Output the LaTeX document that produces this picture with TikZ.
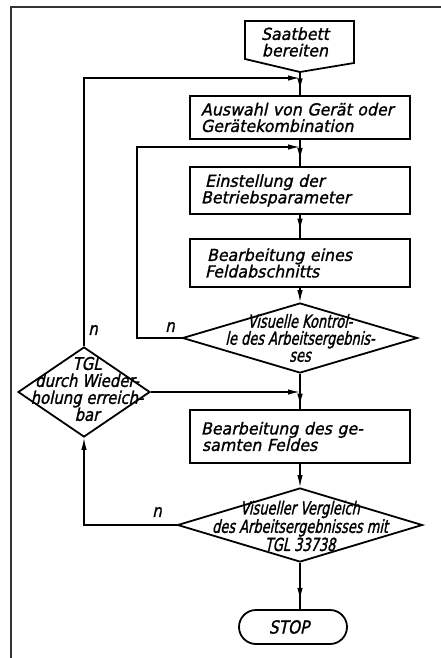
\documentclass[tikz,border=0pt]{standalone}
\usepackage{fontspec}
\usetikzlibrary{arrows.meta,shapes.geometric,decorations.markings}
\newfontfamily\tfont{DejaVu Sans}[FakeSlant=0.22,FakeStretch=0.96,FakeBold=1.3]
\newfontfamily\dfont{DejaVu Sans}[FakeSlant=0.22,FakeStretch=0.72,FakeBold=1.3]
\newfontfamily\efont{DejaVu Sans}[FakeSlant=0.22,FakeStretch=0.85,FakeBold=1.3]
\begin{document}
\begin{tikzpicture}[x=1pt,y=-1pt,
  tip/.tip={Latex[length=12pt,width=5.5pt]},
  boxnode/.style={draw, line width=1.8pt, minimum width=220pt, text width=206pt,
    inner xsep=7pt, inner ysep=0pt, align=left,
    font=\tfont\fontsize{16.5}{16.5}\selectfont},
  dia/.style={draw, diamond, line width=1.8pt, inner sep=0pt},
  dtext/.style={align=center, inner sep=0pt, font=\dfont\fontsize{18}{17}\selectfont},
  etext/.style={align=center, inner sep=0pt, font=\efont\fontsize{17.5}{17}\selectfont},
  conn/.style={line width=1.4pt},
  arr/.style={conn, -tip},
  midarr/.style={conn, postaction={decorate},
    decoration={markings, mark=at position #1 with {\arrow{tip}}}},
  frameline/.style={line width=1.2pt, black!80}
]
\useasboundingbox (0,0) rectangle (441,658);
\draw[frameline] (11,658) -- (11,7) -- (441,7);

% start
\draw[line width=1.8pt, line join=miter] (245,21) -- (354,21) -- (354,63) -- (300,72) -- (245,59) -- cycle;
\coordinate (startpt) at (300,72);
\node[font=\tfont\fontsize{16.5}{16.5}\selectfont, align=center, inner sep=0pt] (start) at (295,42) {Saatbett\\bereiten};

% boxes
\node[boxnode, minimum height=43pt] (b2) at (300,117.5) {\hspace*{4pt}Auswahl von Gerät oder\\\hspace*{4pt}Gerätekombination};
\node[boxnode, minimum height=47pt] (b3) at (300,190.5) {\hspace*{8pt}Einstellung der\\\hspace*{4pt}Betriebsparameter};
\node[boxnode, minimum height=48pt] (b4) at (300,263) {\hspace*{10pt}Bearbeitung eines\\\hspace*{8pt}Feldabschnitts};
\node[dia, minimum width=235pt, minimum height=70pt] (d1) at (300,338) {};
\node[dtext] (d1t) at (300,338) {Visuelle Kontrol-\\le des Arbeitsergebnis-\\ses};
\node[dia, minimum width=132pt, minimum height=90pt] (d2) at (84,392) {};
\node[etext] (d2t) at (87,389) {TGL\\durch Wieder-\\holung erreich-\\bar};
\node[boxnode, minimum height=53pt] (b5) at (300,436.5) {\hspace*{4pt}Bearbeitung des ge-\\\hspace*{5pt}samten Feldes};
\node[dia, minimum width=245pt, minimum height=74pt] (d3) at (300,525) {};
\node[dtext] (d3t) at (300,526) {Visueller Vergleich\\des Arbeitsergebnisses mit\\TGL 33738};
\node[draw, line width=1.8pt, rounded corners=17pt, minimum width=108pt, minimum height=34pt,
  inner sep=0pt, font=\efont\fontsize{18}{18}\selectfont] (stop) at (293,627) {STOP\hspace*{8pt}};

% junctions and corners
\coordinate (j1) at (300,78);
\coordinate (j2) at (300,147);
\coordinate (j3) at (300,392);
\coordinate (c1) at (137,147);

% main flow
\draw[conn] (startpt) -- (j1);
\draw[midarr=0.72] (j1) -- (b2.north);
\draw[conn] (b2.south) -- (j2);
\draw[midarr=0.68] (j2) -- (b3.north);
\draw[midarr=0.68] (b3.south) -- (b4.north);
\draw[arr] (b4.south) -- (d1.north);
\draw[conn] (d1.south) -- (j3);
\draw[midarr=0.8] (j3) -- (b5.north);
\draw[arr] (b5.south) -- (d3.north);
\draw[midarr=0.8] (d3.south) -- (d3.south |- stop.north);

% loops
\draw[arr] (d1.west) -| (c1) -- (j2);
\draw[arr] (d2.north) |- (j1);
\draw[arr] (d2.east) -- (j3);
\draw[arr] (d3.west) -| (d2.south);

% labels
\node[etext] (n1) at (170,327) {n};
\node[etext] (n2) at (93,330) {n};
\node[etext] (n3) at (157,512) {n};
\end{tikzpicture}
\end{document}
